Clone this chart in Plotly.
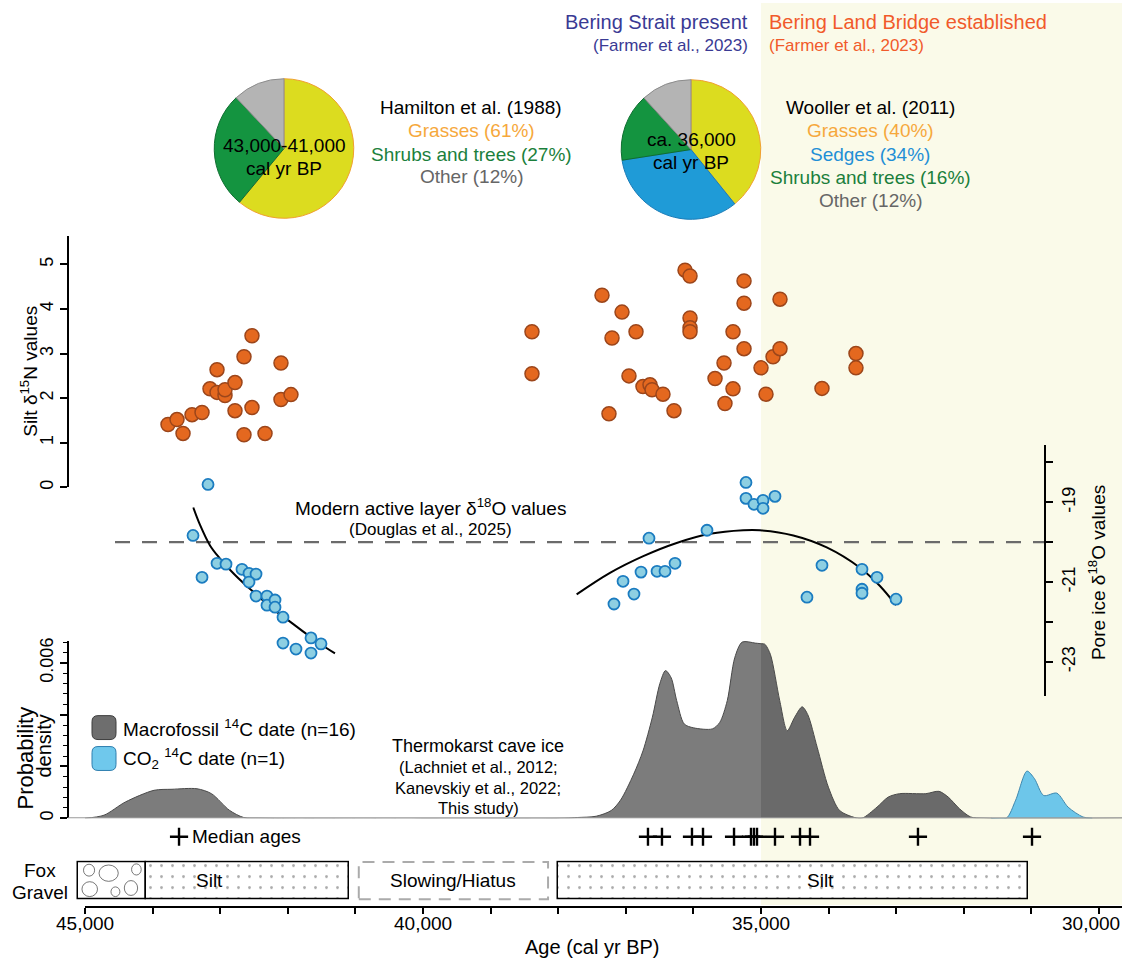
import numpy as np
import plotly.graph_objects as go

# ======================= DATA =======================
# Silt d15N values (age in cal yr BP, permil)
n15_age = [43772, 43639, 43550, 43417, 43269, 43151, 43047, 43047, 42929, 42929,
           42781, 42781, 42648, 42648, 42530, 42530, 42337, 42101, 42101, 41953,
           38388, 38388, 37352, 37204, 37249, 37056, 36849, 36953, 36746, 36642,
           36612, 36450, 36287, 36124, 36050, 36050, 36050, 36050, 35680, 35547,
           35533, 35414, 35414, 35251, 35251, 35251, 35000, 34926, 34822, 34719,
           34719, 34098, 33595, 33595]
n15_val = [1.41, 1.52, 1.21, 1.63, 1.68, 2.21, 2.64, 2.13, 2.06, 2.19,
           2.35, 1.72, 2.93, 1.18, 3.40, 1.79, 1.21, 2.79, 1.97, 2.08,
           3.49, 2.55, 4.31, 3.35, 1.65, 3.93, 3.49, 2.50, 2.26, 2.30,
           2.19, 2.09, 1.72, 4.87, 4.74, 3.80, 3.58, 3.49, 2.44, 2.79,
           1.88, 3.49, 2.21, 4.63, 4.13, 3.11, 2.68, 2.09, 2.93, 3.11,
           4.22, 2.22, 3.00, 2.68]

# Pore ice d18O values
o18_age = [43180, 43402, 43269, 43047, 42914, 42678, 42574, 42470, 42574, 42470,
           42308, 42308, 42189, 42189, 42071, 42071, 41879, 41657, 41509, 41657,
           37175, 37041, 36879, 36775, 36657, 36538, 36420, 36272, 35799, 35222,
           35222, 35104, 34970, 34970, 34793, 34320, 34098, 33506, 33506, 33506,
           33284, 33003]
o18_val = [-18.55, -19.83, -20.88, -20.53, -20.55, -20.68, -20.78, -20.80, -21.00, -21.35,
           -21.35, -21.58, -21.45, -21.63, -21.88, -22.53, -22.68, -22.40, -22.55, -22.78,
           -21.55, -20.98, -21.30, -20.75, -19.90, -20.73, -20.73, -20.53, -19.70, -18.50,
           -18.90, -19.05, -18.95, -19.15, -18.85, -21.38, -20.58, -20.68, -21.18, -21.28,
           -20.88, -21.43]

# Trend curves drawn through the d18O data
fit1_age = [43398, 43300, 43151, 43003, 42806, 42608, 42411, 42214, 42017, 41820, 41573, 41302]
fit1_val = [-19.13, -19.56, -20.08, -20.41, -20.78, -21.10, -21.39, -21.68, -21.93, -22.18, -22.49, -22.79]
fit2_age = [37727, 37234, 36741, 36248, 35754, 35262, 35015, 34522, 34028, 33536, 33240, 33003]
fit2_val = [-21.31, -20.77, -20.35, -20.02, -19.79, -19.70, -19.70, -19.83, -20.13, -20.64, -21.10, -21.58]

modern_d18O = -20.0          # modern active layer value
bering_boundary = 35000      # Bering Land Bridge established

# Summed probability density of 14C dates
macro_age = [45000, 44719, 44402, 43979, 43713, 43343, 43129, 42864, 42652, 42400,
             37900, 37715, 37438, 37216, 37078, 36884, 36746, 36607, 36496, 36413,
             36330, 36247, 36136, 35997, 35720, 35610, 35499, 35388, 35278, 35083,
             34945, 34862, 34723, 34612, 34502, 34391, 34308, 34169, 34003, 33837,
             33615, 33506, 33284, 33117, 32950, 32562, 32368, 32231, 32064, 31898,
             31700, 29660]
macro_dens = [0.0, 0.00012, 0.00063, 0.00108, 0.00112, 0.00114, 0.00095, 0.00031, 0.00003, 0.0,
              0.0, 0.00003, 0.00008, 0.00030, 0.00070, 0.00170, 0.00260, 0.00390, 0.00520, 0.00570,
              0.00543, 0.00454, 0.00364, 0.00349, 0.00345, 0.00370, 0.00454, 0.00620, 0.00680, 0.00676,
              0.00672, 0.00633, 0.00454, 0.00338, 0.00390, 0.00430, 0.00400, 0.00274, 0.00120, 0.00030,
              0.00003, 0.0, 0.00043, 0.00082, 0.00095, 0.00095, 0.00104, 0.00082, 0.00037, 0.00005,
              0.0, 0.0]
co2_age = [31600, 31372, 31233, 31066, 30955, 30818, 30624, 30457, 30237, 30100]
co2_dens = [0.0, 0.0, 0.00070, 0.00182, 0.00153, 0.00088, 0.00097, 0.00043, 0.00005, 0.0]

macro_median = [43609, 36672, 36465, 36021, 35858, 35399, 35148, 35104, 35059,
                34793, 34423, 34275, 32678]
co2_median = [30991]

# Vegetation composition
pie1_labels = ["Grasses", "Shrubs and trees", "Other"]
pie1_vals = [61, 27, 12]
pie2_labels = ["Grasses", "Sedges", "Shrubs and trees", "Other"]
pie2_vals = [40, 34, 16, 12]

# Stratigraphy (age intervals)
strata_names = ["Gravel", "Silt", "Silt"]
strata_old = [45100, 44100, 38000]
strata_young = [44100, 41100, 31050]
strata_label_age = [None, 43151, 34127]
hiatus_old, hiatus_young = 40950, 38150

x_tick_vals = list(range(30000, 45001, 1000))
x_label_vals = [45000, 40000, 35000, 30000]

# ======================= LAYOUT GEOMETRY =======================
FONT = "Liberation Sans, Arial, Helvetica, sans-serif"
W, H = 1124, 967
ML, MR, MT, MB = 40, 2, 0, 60
PW, PH = W - ML - MR, H - MT - MB


def px(x):
    return (x - ML) / PW


def py(y):
    return 1 - (y - MT) / PH


YR_PER_PX = 1000 / 67.6
X0 = 45000 + (85 - 68) * YR_PER_PX
X1 = 45000 - (W - MR - 85) * YR_PER_PX

fig = go.Figure()

# ---------------- density panel (y3) ----------------
ma = np.array(macro_age, float)
md = np.array(macro_dens, float)
vb = float(np.interp(bering_boundary, ma[::-1], md[::-1]))
left_mask = ma > bering_boundary
la = list(ma[left_mask]) + [bering_boundary]
ld = list(md[left_mask]) + [vb]
ra = [bering_boundary] + list(ma[~left_mask])
rd = [vb] + list(md[~left_mask])
for xa, yd, col in [(la, ld, "#7c7c7c"), (ra, rd, "#6a6a6a")]:
    fig.add_trace(go.Scatter(x=xa, y=yd, xaxis="x", yaxis="y3", mode="lines",
                             line=dict(color="#4a4a4a", width=1, shape="spline", smoothing=0.8),
                             fill="tozeroy", fillcolor=col, hoverinfo="skip", showlegend=False))
fig.add_trace(go.Scatter(x=co2_age, y=co2_dens, xaxis="x", yaxis="y3", mode="lines",
                         line=dict(color="#3d86ad", width=1, shape="spline", smoothing=0.8),
                         fill="tozeroy", fillcolor="#6dc6ea", hoverinfo="skip", showlegend=False))

# ---------------- median crosses (y5) ----------------
fig.add_trace(go.Scatter(x=macro_median + co2_median, y=[0.5] * (len(macro_median) + len(co2_median)),
                         xaxis="x", yaxis="y5", mode="markers",
                         marker=dict(symbol="cross-thin", size=13, line=dict(color="black", width=2.4)),
                         hoverinfo="skip", showlegend=False))

# ---------------- d15N (y) ----------------
fig.add_trace(go.Scatter(x=n15_age, y=n15_val, xaxis="x", yaxis="y", mode="markers",
                         marker=dict(size=14, color="#e4681f", line=dict(color="#9c461b", width=1.5)),
                         hoverinfo="skip", showlegend=False))

# ---------------- d18O (y2) ----------------
for fa, fv in [(fit1_age, fit1_val), (fit2_age, fit2_val)]:
    fig.add_trace(go.Scatter(x=fa, y=fv, xaxis="x", yaxis="y2", mode="lines",
                             line=dict(color="black", width=2, shape="spline"),
                             hoverinfo="skip", showlegend=False))
fig.add_trace(go.Scatter(x=o18_age, y=o18_val, xaxis="x", yaxis="y2", mode="markers",
                         marker=dict(size=11, color="#8dcfe2", line=dict(color="#1b7cc0", width=1.8)),
                         hoverinfo="skip", showlegend=False))

# ---------------- stratigraphy (y4) ----------------
lengths = [o - y for o, y in zip(strata_old, strata_young)]
fig.add_trace(go.Bar(x=lengths, base=strata_young, y=[0] * len(lengths), orientation="h",
                     xaxis="x", yaxis="y4", width=1,
                     marker=dict(color="white", line=dict(color="black", width=1.5),
                                 pattern=dict(shape=["" if n == "Gravel" else "." for n in strata_names],
                                              fgcolor="#555555", bgcolor="white", size=11, solidity=0.05)),
                     hoverinfo="skip", showlegend=False))

# ---------------- pies ----------------
YEL, GRN, GRY, BLU = "#dcdc1f", "#149440", "#b4b4b4", "#1f9bd7"
fig.add_trace(go.Pie(values=pie1_vals, labels=pie1_labels, sort=False, direction="clockwise", rotation=0,
                     marker=dict(colors=[YEL, GRN, GRY], line=dict(color=["#f0a030", "#0e6e30", "#8c8c8c"], width=1)),
                     textinfo="none", hoverinfo="skip", showlegend=False,
                     domain=dict(x=[px(214), px(354)], y=[py(216), py(76)])))
fig.add_trace(go.Pie(values=pie2_vals, labels=pie2_labels, sort=False, direction="clockwise", rotation=0,
                     marker=dict(colors=[YEL, BLU, GRN, GRY], line=dict(color=["#f0a030", "#1a7cb8", "#0e6e30", "#8c8c8c"], width=1)),
                     textinfo="none", hoverinfo="skip", showlegend=False,
                     domain=dict(x=[px(621), px(761)], y=[py(217), py(77)])))

# ---------------- shapes ----------------
shapes = []
shapes.append(dict(type="rect", xref="x", yref="paper", x0=bering_boundary, x1=X1, y0=py(905), y1=1.0,
                   fillcolor="#fafae9", line=dict(width=0), layer="below"))
shapes.append(dict(type="line", xref="x", yref="paper", x0=45000, x1=X1, y0=0, y1=0,
                   line=dict(color="black", width=2)))
shapes.append(dict(type="line", xref="paper", yref="y3", x0=px(68), x1=1.0, y0=0, y1=0,
                   line=dict(color="#9a9a9a", width=2), layer="above"))
shapes.append(dict(type="line", xref="paper", yref="y2", x0=px(115), x1=px(1045), y0=modern_d18O, y1=modern_d18O,
                   line=dict(color="#6b6b6b", width=2.3, dash="15px,12px"), layer="below"))
shapes.append(dict(type="rect", xref="x", yref="y4", x0=hiatus_old, x1=hiatus_young, y0=-0.5, y1=0.5,
                   line=dict(color="#ababab", width=2, dash="12px,8px"), fillcolor="rgba(0,0,0,0)"))
# gravel clasts (decorative)
g_old, g_young = strata_old[0], strata_young[0]
for fx, fy, rxf, ryf in [(0.17, 0.27, 0.21, 0.2), (0.45, 0.7, 0.26, 0.22), (0.78, 0.3, 0.18, 0.2),
                         (0.16, 0.78, 0.15, 0.16), (0.86, 0.8, 0.13, 0.15), (0.55, 0.2, 0.12, 0.13)]:
    cx = g_old - fx * (g_old - g_young)
    cy = -0.5 + fy
    rx = rxf * 37 * YR_PER_PX
    shapes.append(dict(type="circle", xref="x", yref="y4", x0=cx + rx, x1=cx - rx, y0=cy - ryf, y1=cy + ryf,
                       line=dict(color="#555555", width=0.8)))


def rrect(x0, y0, x1, y1, r, fill, line):
    X = lambda v: px(v)
    Y = lambda v: py(v)
    p = (f"M {X(x0 + r)},{Y(y0)} L {X(x1 - r)},{Y(y0)} Q {X(x1)},{Y(y0)} {X(x1)},{Y(y0 + r)} "
         f"L {X(x1)},{Y(y1 - r)} Q {X(x1)},{Y(y1)} {X(x1 - r)},{Y(y1)} "
         f"L {X(x0 + r)},{Y(y1)} Q {X(x0)},{Y(y1)} {X(x0)},{Y(y1 - r)} "
         f"L {X(x0)},{Y(y0 + r)} Q {X(x0)},{Y(y0)} {X(x0 + r)},{Y(y0)} Z")
    return dict(type="path", xref="paper", yref="paper", path=p, fillcolor=fill, line=dict(color=line, width=1))


shapes.append(rrect(92, 715, 116, 739, 6, "#6e6e6e", "#3c3c3c"))
shapes.append(rrect(92, 746, 116, 770, 6, "#6fc8ec", "#2f7faf"))

# ---------------- annotations ----------------
anns = []


def ann(text, x, y, size=19, color="black", xanchor="center", angle=0):
    anns.append(dict(text=text, x=px(x), y=py(y), xref="paper", yref="paper", showarrow=False,
                     font=dict(size=size, color=color, family=FONT), xanchor=xanchor, yanchor="middle",
                     textangle=angle))


BLUE_T, ORNG_T = "#3a3a94", "#f15a2b"
ann("Bering Strait present", 750, 19, 20, BLUE_T, "right")
ann("(Farmer et al., 2023)", 750, 43, 17, BLUE_T, "right")
ann("Bering Land Bridge established", 767, 19, 20, ORNG_T, "left")
ann("(Farmer et al., 2023)", 767, 43, 17, ORNG_T, "left")

ann("43,000-41,000", 284, 143, 19)
ann("cal yr BP", 284, 166, 19)
ann("ca. 36,000", 691, 137, 19)
ann("cal yr BP", 691, 160, 19)

C_GRASS, C_SEDGE, C_SHRUB, C_OTHER = "#f6a83c", "#1f8fd6", "#1b7f3c", "#666666"
ann("Hamilton et al. (1988)", 471, 105, 19)
ann("Grasses (61%)", 471, 128, 19, C_GRASS)
ann("Shrubs and trees (27%)", 471, 152, 19, C_SHRUB)
ann("Other (12%)", 471, 174, 19, C_OTHER)
ann("Wooller et al. (2011)", 870, 105, 19)
ann("Grasses (40%)", 870, 128, 19, C_GRASS)
ann("Sedges (34%)", 870, 152, 19, C_SEDGE)
ann("Shrubs and trees (16%)", 870, 175, 19, C_SHRUB)
ann("Other (12%)", 870, 198, 19, C_OTHER)

ann("Modern active layer δ<sup>18</sup>O values", 430, 506, 19)
ann("(Douglas et al., 2025)", 430, 528, 17)

ann("Silt δ<sup>15</sup>N values", 29, 370, 19, angle=-90)
ann("Probability", 25, 758, 22, angle=-90)
ann("density", 44, 746, 20, angle=-90)
ann("Pore ice δ<sup>18</sup>O values", 1097, 572, 19, angle=-90)

ann("Macrofossil <sup>14</sup>C date (n=16)", 121, 727, 19, xanchor="left")
ann("CO<sub>2</sub> <sup>14</sup>C date (n=1)", 121, 758, 19, xanchor="left")

ann("Thermokarst cave ice", 478, 745, 18)
ann("(Lachniet et al., 2012;", 478, 767, 16.5)
ann("Kanevskiy et al., 2022;", 478, 788, 16.5)
ann("This study)", 478, 808, 16.5)

ann("Median ages", 190, 836, 19, xanchor="left")
ann("Fox", 40, 870, 19)
ann("Gravel", 40, 892, 19)
ann("Age (cal yr BP)", 592, 947, 20)

# x tick labels (last one kept inside the page edge)
for v in x_label_vals:
    if v == 30000:
        anns.append(dict(text=f"{v:,}", x=px(1122), y=py(924), xref="paper", yref="paper", showarrow=False,
                         xanchor="right", yanchor="middle", font=dict(size=19, family=FONT, color="black")))
    else:
        anns.append(dict(text=f"{v:,}", x=v, y=py(924), xref="x", yref="paper", showarrow=False,
                         yanchor="middle", font=dict(size=19, family=FONT, color="black")))

# strata labels
for name, la_ in zip(strata_names, strata_label_age):
    if la_ is not None:
        anns.append(dict(text=name, x=la_, y=0, xref="x", yref="y4", showarrow=False,
                         font=dict(size=19, family=FONT, color="black")))
anns.append(dict(text="Slowing/Hiatus", x=(hiatus_old + hiatus_young) / 2, y=0, xref="x", yref="y4",
                 showarrow=False, font=dict(size=19, family=FONT, color="black")))

# ---------------- axes ----------------
axis_common = dict(showgrid=False, zeroline=False, linecolor="black", linewidth=2,
                   ticks="outside", tickcolor="black", tickwidth=1.6, ticklen=7,
                   tickfont=dict(size=18, family=FONT, color="black"))

fig.update_layout(
    width=W, height=H, margin=dict(l=ML, r=MR, t=MT, b=MB),
    paper_bgcolor="white", plot_bgcolor="rgba(0,0,0,0)",
    font=dict(family=FONT, color="black"),
    showlegend=False, bargap=0, barmode="overlay",
    xaxis=dict(domain=[px(68), 1], range=[X0, X1], anchor="free", position=0,
               showline=False, showgrid=False, zeroline=False,
               ticks="outside", ticklen=6, tickwidth=1.6, tickcolor="black",
               tickmode="array", tickvals=x_tick_vals, showticklabels=False),
    yaxis=dict(domain=[py(486), py(234)], range=[0, (486 - 234) / 44.75], anchor="free", position=px(68),
               showline=True, tickmode="array", tickvals=[0, 1, 2, 3, 4, 5], tickangle=-90, **axis_common),
    yaxis2=dict(domain=[py(695), py(443)], range=[-20 - (695 - 541) / 40, -20 + (541 - 443) / 40],
                anchor="free", position=px(1045), side="right", showline=True,
                tickmode="array", tickvals=[-18, -19, -20, -21, -22, -23],
                ticktext=[" ", "-19", " ", "-21", " ", "-23"], tickangle=-90, **axis_common),
    yaxis3=dict(domain=[py(818), py(640)], range=[0, (818 - 640) / 26 * 0.001], anchor="free", position=px(68),
                showline=True, tickmode="array", tickvals=[0, 0.002, 0.004, 0.006],
                ticktext=["0", " ", " ", "0.006"], tickangle=-90,
                minor=dict(tickvals=[i * 0.0004 for i in range(18)], ticks="outside", ticklen=4,
                           tickwidth=1.4, tickcolor="black"),
                **axis_common),
    yaxis4=dict(domain=[py(901), py(860)], range=[-0.55, 0.55], anchor="free", position=0, visible=False),
    yaxis5=dict(domain=[py(848), py(825)], range=[0, 1], anchor="free", position=0, visible=False),
    shapes=shapes,
    annotations=anns,
)

fig.write_html("out.html", config={"displayModeBar": False},
               post_script="document.body.style.margin='0px';document.body.style.padding='0px';")
